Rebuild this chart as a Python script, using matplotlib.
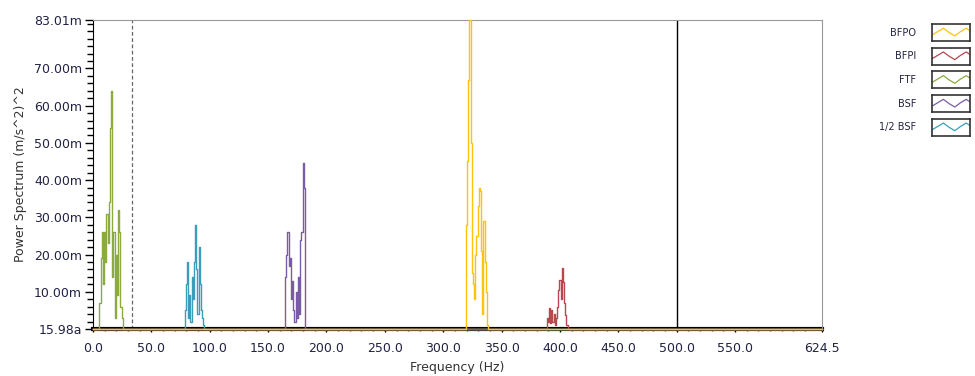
import matplotlib
matplotlib.use("Agg")
import matplotlib.pyplot as plt
import numpy as np

# spectrum clusters: start frequency (Hz, 1 Hz step) and power (m (m/s^2)^2)
bfpo_f0 = 319
bfpo = [0, 28, 45, 67, 83.01, 50, 15, 12, 8, 20, 25, 33, 38, 37, 21, 4, 29, 18, 10, 1, 0]
bfpi_f0 = 388
bfpi = [0, 3, 2, 5.7, 1.5, 5.1, 2, 4, 1, 3, 6, 10.5, 13.2, 8, 16.3, 12.7, 7, 3.8, 1, 0]
ftf_f0 = 5
ftf = [0, 7, 19, 26, 12, 26, 18, 31, 23, 34, 54, 64, 14, 26, 3, 20, 9, 32, 26, 6, 3, 0]
bsf_f0 = 164
bsf = [0, 14, 20, 26, 17, 19, 8, 13, 5, 2, 10, 3, 14, 4, 24, 26, 44.5, 38, 0]
half_bsf_f0 = 78
half_bsf = [0, 5, 12, 18, 3, 9, 2, 14, 8, 18, 28, 16, 4, 22, 12, 5, 3, 1, 0]

names = ["BFPO", "BFPI", "FTF", "BSF", "1/2 BSF"]
colors = ["#FFC20E", "#B8474E", "#8BAA3F", "#7A5CA6", "#3C9DBB"]
series = [(bfpo_f0, bfpo), (bfpi_f0, bfpi), (ftf_f0, ftf), (bsf_f0, bsf), (half_bsf_f0, half_bsf)]

f_max = 624.5
y_max = 83.01
cursor_dash = 33.4
cursor_solid = 500.0

x_ticks = [0, 50, 100, 150, 200, 250, 300, 350, 400, 450, 500, 550, 624.5]
x_labels = ["0.0", "50.0", "100.0", "150.0", "200.0", "250.0", "300.0", "350.0",
            "400.0", "450.0", "500.0", "550.0", "624.5"]
y_ticks = [0, 10, 20, 30, 40, 50, 60, 70, 83.01]
y_labels = ["15.98a", "10.00m", "20.00m", "30.00m", "40.00m", "50.00m", "60.00m", "70.00m", "83.01m"]

fig = plt.figure(figsize=(9.75, 3.76), dpi=100)
ax = fig.add_axes([93 / 975, 1 - 329 / 376, (822 - 93) / 975, (329 - 20) / 376])

ax.axvline(cursor_dash, color="#666666", lw=0.9, ls=(0, (3, 2)), zorder=1)
ax.axvline(cursor_solid, color="black", lw=1.0, zorder=1)
ax.axhline(0, color="black", lw=3.0, zorder=2, clip_on=False)

# draw so that BFPO ends up on top
for (f0, vals), col, name in list(zip(series, colors, names))[::-1]:
    f = f0 + np.arange(len(vals))
    x = np.concatenate([[0], f, [f_max]])
    y = np.concatenate([[0], vals, [0]])
    ax.plot(x, y, color=col, lw=1.0, drawstyle="steps-mid", zorder=3, clip_on=False, label=name)

ax.set_xlim(0, f_max)
ax.set_ylim(0, y_max)
ax.set_xticks(x_ticks)
ax.set_xticklabels(x_labels)
ax.set_xticks(np.arange(10, 620, 10), minor=True)
ax.set_yticks(y_ticks)
ax.set_yticklabels(y_labels)
ax.set_yticks(np.arange(2, 83, 2), minor=True)

tick_col = "#222244"
ax.tick_params(axis="y", which="major", length=6, width=1, direction="out", labelsize=9,
               labelcolor=tick_col, pad=2)
ax.tick_params(axis="y", which="minor", length=4, width=1, direction="out")
ax.tick_params(axis="x", which="major", length=2, width=1, direction="out", labelsize=9,
               labelcolor=tick_col, pad=7)
ax.tick_params(axis="x", which="minor", length=1.5, width=1, direction="out", color="#555555")

for side in ["top", "right"]:
    ax.spines[side].set_color("#999999")
ax.spines["left"].set_color("black")
ax.spines["bottom"].set_visible(False)

ax.set_xlabel("Frequency (Hz)", fontsize=9, color="#333333", labelpad=5)
ax.set_ylabel("Power Spectrum (m/s^2)^2", fontsize=9, color="#333333", labelpad=5)

# legend: label + boxed zigzag sample
zig_x = [0, 0.15, 0.3, 0.45, 0.6, 0.75, 0.9, 1.0]
zig_y = [0.35, 0.55, 0.75, 0.5, 0.3, 0.55, 0.75, 0.6]
for i, (name, col) in enumerate(zip(names, colors)):
    top = 24 + i * 23.7
    lax = fig.add_axes([932 / 975, 1 - (top + 17) / 376, 38 / 975, 17 / 376])
    lax.plot(zig_x, zig_y, color=col, lw=0.9)
    lax.set_xlim(0, 1)
    lax.set_ylim(0, 1)
    lax.set_xticks([])
    lax.set_yticks([])
    for s in lax.spines.values():
        s.set_color("#333333")
        s.set_linewidth(1.2)
    fig.text(916 / 975, 1 - (top + 8.5) / 376, name, fontsize=7, ha="right", va="center",
             color="#222244")

fig.savefig("out.png", dpi=100)
